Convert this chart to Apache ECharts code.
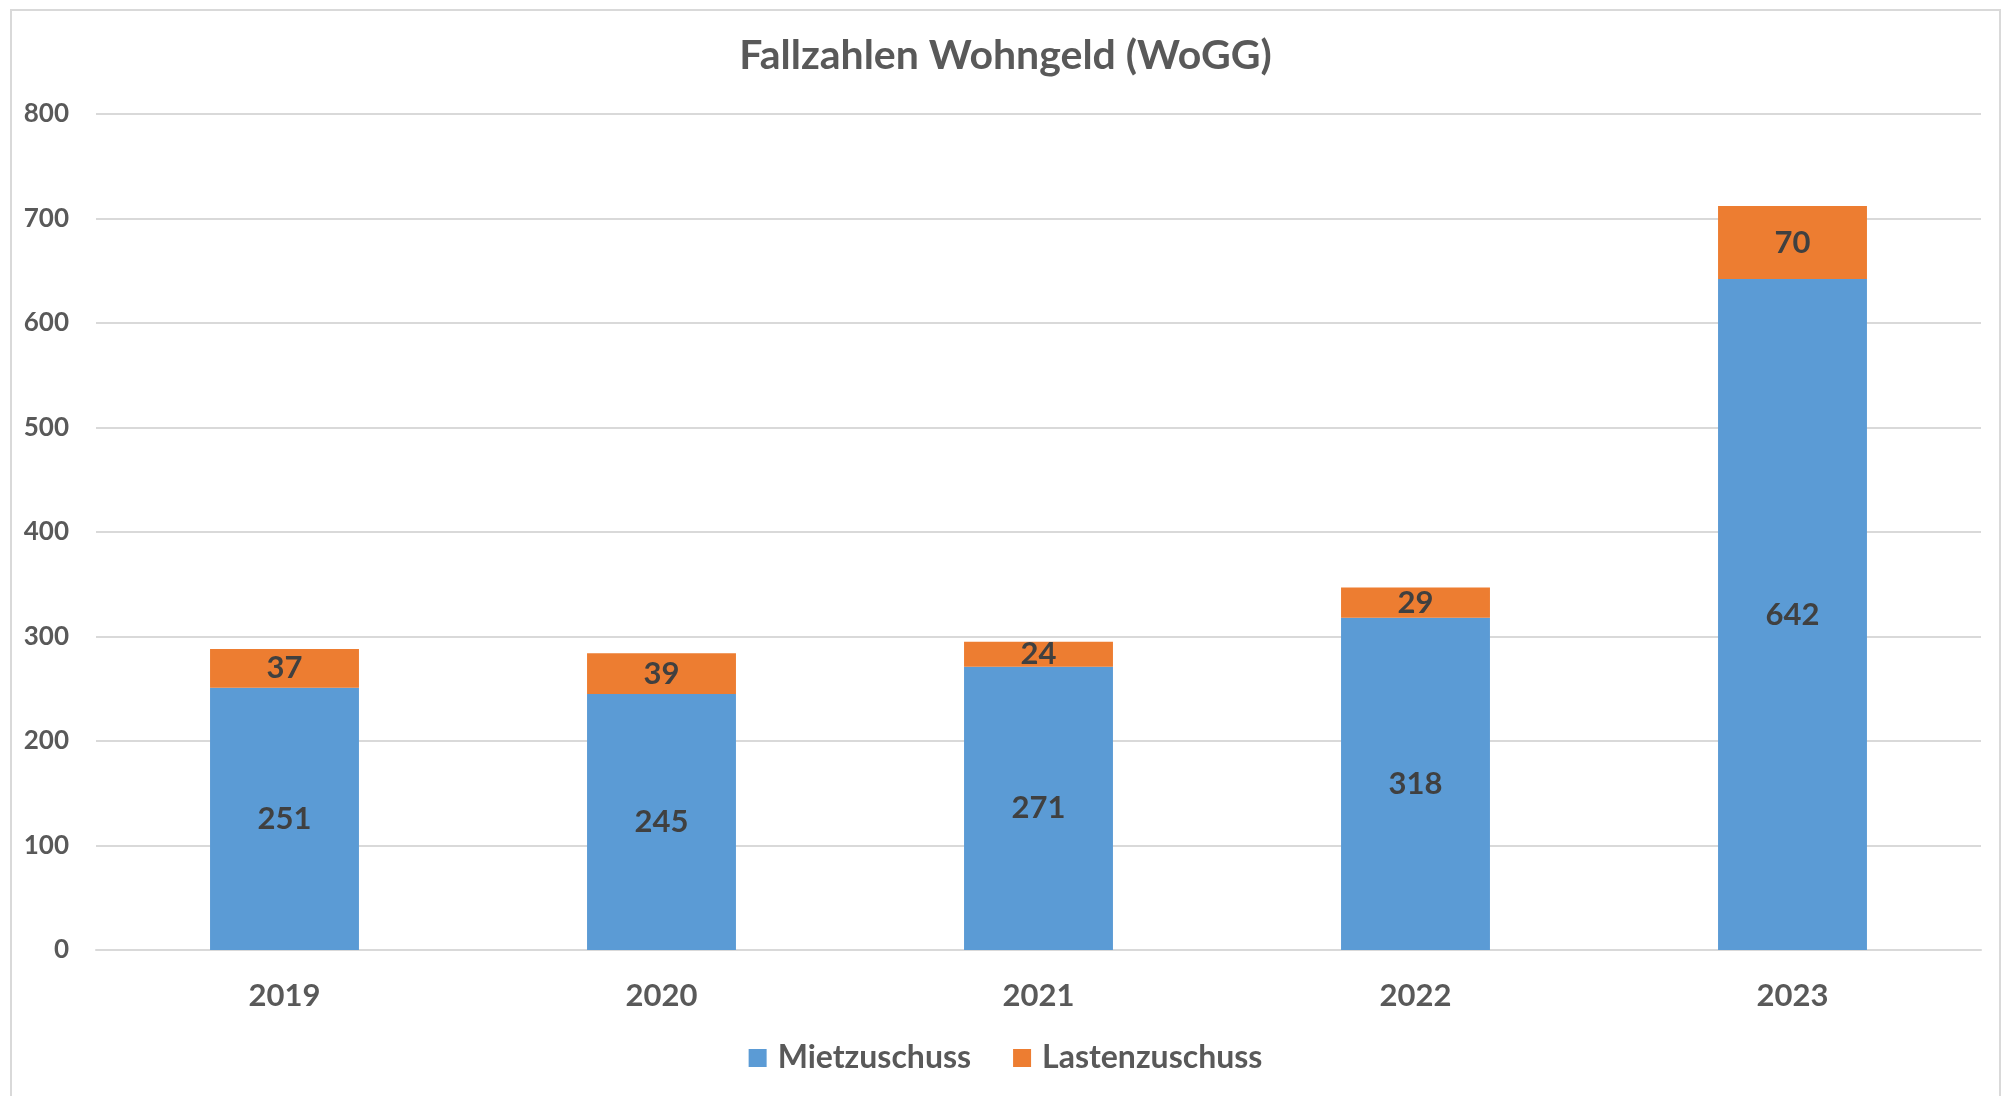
<!DOCTYPE html>
<html>
<head>
<meta charset="utf-8">
<title>Fallzahlen Wohngeld (WoGG)</title>
<script src="https://cdn.jsdelivr.net/npm/echarts@6/dist/echarts.min.js"></script>
<style>
  html, body { margin: 0; padding: 0; background: #fff; }
  #frame { position: absolute; left: 10px; top: 9px; width: 1991px; height: 1100px; border: 2px solid #d9d9d9; box-sizing: border-box; }
  #chart { position: absolute; left: 0; top: 0; width: 2011px; height: 1096px; }
</style>
</head>
<body>
<div id="frame"></div>
<div id="chart"></div>
<script>
// Jahre und Fallzahlen
var years = ['2019', '2020', '2021', '2022', '2023'];
var mietzuschuss = [251, 245, 271, 318, 642];
var lastenzuschuss = [37, 39, 24, 29, 70];

var font = 'Lato, "Liberation Sans", sans-serif';

var myChart = echarts.init(document.getElementById('chart'));

var option = {
  animation: false,
  textStyle: { fontFamily: font },
  title: {
    text: 'Fallzahlen Wohngeld (WoGG)',
    left: 'center',
    top: 30,
    textStyle: { fontFamily: font, fontSize: 41, fontWeight: 'bold', color: '#595959' }
  },
  legend: {
    bottom: 17,
    left: 'center',
    itemWidth: 18,
    itemHeight: 18,
    itemGap: 42,
    icon: 'rect',
    textStyle: { fontFamily: font, fontSize: 32, fontWeight: 'bold', color: '#595959', padding: [0, 0, 0, 6] },
    data: ['Mietzuschuss', 'Lastenzuschuss']
  },
  grid: { left: 96, right: 30, top: 114, bottom: 146 },
  xAxis: {
    type: 'category',
    data: years,
    axisLine: { lineStyle: { color: '#d9d9d9', width: 2 } },
    axisTick: { show: false },
    axisLabel: { margin: 30, fontSize: 31, fontWeight: 'bold', color: '#595959' }
  },
  yAxis: {
    type: 'value',
    min: 0,
    max: 800,
    interval: 100,
    axisLine: { show: false },
    axisTick: { show: false },
    splitLine: { lineStyle: { color: '#d9d9d9', width: 2 } },
    axisLabel: { margin: 27, fontSize: 26, fontWeight: 'bold', color: '#595959' }
  },
  series: [
    {
      name: 'Mietzuschuss',
      type: 'bar',
      stack: 'total',
      barWidth: '39.5%',
      data: mietzuschuss,
      itemStyle: { color: '#5b9bd5' },
      label: { show: true, position: 'inside', fontSize: 31, fontWeight: 'bold', color: '#404040' }
    },
    {
      name: 'Lastenzuschuss',
      type: 'bar',
      stack: 'total',
      barWidth: '39.5%',
      data: lastenzuschuss,
      itemStyle: { color: '#ed7d31' },
      label: { show: true, position: 'inside', fontSize: 31, fontWeight: 'bold', color: '#404040' }
    }
  ]
};

myChart.setOption(option);
</script>
</body>
</html>
